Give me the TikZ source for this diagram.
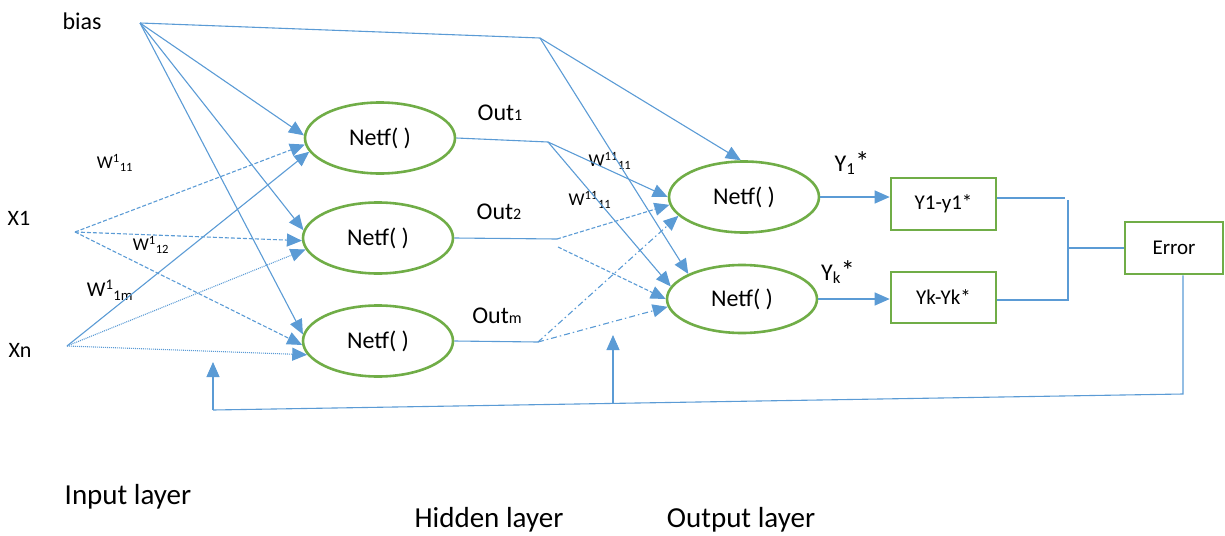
\documentclass[tikz,border=0pt]{standalone}
\usepackage{fontspec}
\setmainfont{Carlito}
\usetikzlibrary{arrows.meta,shapes.geometric}
\definecolor{lblue}{HTML}{5B9BD5}
\definecolor{lgreen}{HTML}{70AD47}
\begin{document}
\begin{tikzpicture}[x=1pt,y=-1pt,
  conn/.style={draw=lblue, line width=1.1pt},
  arr/.style={conn, -{Triangle[width=13pt,length=15pt]}},
  dsh/.style={dash pattern=on 4pt off 2pt},
  dtt/.style={dash pattern=on 1pt off 1pt},
  ddot/.style={dash pattern=on 6pt off 3pt on 1.5pt off 3pt},
  neuron/.style={ellipse, draw=lgreen, line width=2.6pt, minimum width=150pt, minimum height=71pt, inner sep=0pt, font=\fontsize{24}{28}\selectfont},
  errbox/.style={rectangle, draw=lgreen, line width=2.6pt, minimum height=52pt, inner sep=0pt, font=\fontsize{21}{24}\selectfont},
  lbl/.style={font=\fontsize{24}{28}\selectfont, inner sep=0pt},
  wlbl/.style={font=\fontsize{18}{20}\selectfont, inner sep=0pt},
  biglbl/.style={font=\fontsize{29}{32}\selectfont, inner sep=0pt}
]
\useasboundingbox (0,0) rectangle (1225,535);

% neurons
\node[neuron] (H1) at (380,138) {Netf( )};
\node[neuron] (H2) at (378,238) {Netf( )};
\node[neuron] (H3) at (378,341) {Netf( )};
\node[neuron] (O1) at (744,197) {Netf( )};
\node[neuron, minimum height=68pt] (O2) at (742,299) {Netf( )};

% boxes
\node[errbox, minimum width=105pt] (Y1box) at (943.5,204) {Y1-y1*};
\node[errbox, minimum width=105pt, minimum height=51pt] (Ykbox) at (943.5,297.5) {Yk-Yk*};
\node[errbox, minimum width=98pt] (Err) at (1174,248) {Error};

% coordinates
\coordinate (B) at (140,23);
\coordinate (BT) at (540,38);
\coordinate (X1p) at (75,232);
\coordinate (Xnp) at (67,346);
\coordinate (J1) at (548,142);
\coordinate (J2) at (557,239);
\coordinate (J2b) at (558,247);
\coordinate (J3) at (538,342);
\coordinate (M1) at (1065,198);
\coordinate (M2) at (1067,300);
\coordinate (MV1) at (1068,200);
\coordinate (MV2) at (1068,301);
\coordinate (MC) at (1068,248);
\coordinate (FB1) at (1183,394);
\coordinate (FB2) at (213,410);
\coordinate (FB3) at (613,404);
\coordinate (A1) at (213,362);
\coordinate (A2) at (613,335);

% text labels
\node[lbl] (biasl) at (82,21) {bias};
\node[lbl, font=\fontsize{22}{26}\selectfont] (x1l) at (19,218) {X1};
\node[lbl, font=\fontsize{22}{26}\selectfont] (xnl) at (20,350) {Xn};
\node[wlbl] (w11) at (115,163) {W\textsuperscript{1}\textsubscript{11}};
\node[wlbl] (w12) at (151,245) {W\textsuperscript{1}\textsubscript{12}};
\node[wlbl, font=\fontsize{21}{24}\selectfont] (w1m) at (110,290) {W\textsuperscript{1}\textsubscript{1m}};
\node[lbl] (out1) at (500,113) {Out{\fontsize{16}{18}\selectfont 1}};
\node[lbl] (out2) at (499,212) {Out{\fontsize{16}{18}\selectfont 2}};
\node[lbl] (outm) at (497,316) {Out{\fontsize{16}{18}\selectfont m}};
\node[wlbl] (w1111a) at (610,161) {W\textsuperscript{11}\textsubscript{11}};
\node[wlbl] (w1111b) at (590,200) {W\textsuperscript{11}\textsubscript{11}};
\node[lbl] (y1l) at (852,163) {Y\textsubscript{1}{\fontsize{28}{30}\selectfont *}};
\node[lbl] (ykl) at (838,272) {Y\textsubscript{k}{\fontsize{28}{30}\selectfont *}};
\node[biglbl] (inl) at (128,497) {Input layer};
\node[biglbl] (hidl) at (489,520) {Hidden layer};
\node[biglbl] (outl) at (741,520) {Output layer};

% bias connections
\draw[arr] (B) -- (H1.178);
\draw[arr] (B) -- (H2.174);
\draw[arr] (B) -- (H3.175);
\draw[conn] (B) -- (BT);
\draw[arr] (BT) -- (O1.95);
\draw[arr] (BT) -- (O2.155);

% inputs
\draw[arr, dsh] (X1p) -- (H1.185);
\draw[arr, dsh] (X1p) -- (H2.182);
\draw[arr, dsh] (X1p) -- (H3.183);
\draw[arr] (Xnp) -- (H1.191);
\draw[arr, dtt] (Xnp) -- (H2.189);
\draw[arr, dtt] (Xnp) -- (H3.191);

% hidden outputs
\draw[conn] (H1.east) -- (J1);
\draw[conn] (H2.east) -- (J2);
\draw[conn] (H3.east) -- (J3);
\draw[arr] (J1) -- (O1.180);
\draw[arr] (J1) -- (O2.170);
\draw[arr, dsh] (J2) -- (O1.186);
\draw[arr, dsh] (J2b) -- (O2.180);
\draw[arr, ddot] (J3) -- (O1.196);
\draw[arr, ddot] (J3) -- (O2.186);

% outputs
\draw[arr] (O1.east) -- (O1.east -| Y1box.west);
\draw[arr] (O2.east) -- (O2.east -| Ykbox.west);

% error merge
\draw[conn] (Y1box.east |- M1) -- (M1);
\draw[conn] (Ykbox.east |- M2) -- (M2);
\draw[conn] (MV1) -- (MV2);
\draw[conn] (MC) -- (Err.west);

% feedback
\draw[conn] (Err.south -| FB1) -- (FB1) -- (FB2);
\draw[arr] (FB2) -- (A1);
\draw[arr] (FB3) -- (A2);
\end{tikzpicture}
\end{document}
